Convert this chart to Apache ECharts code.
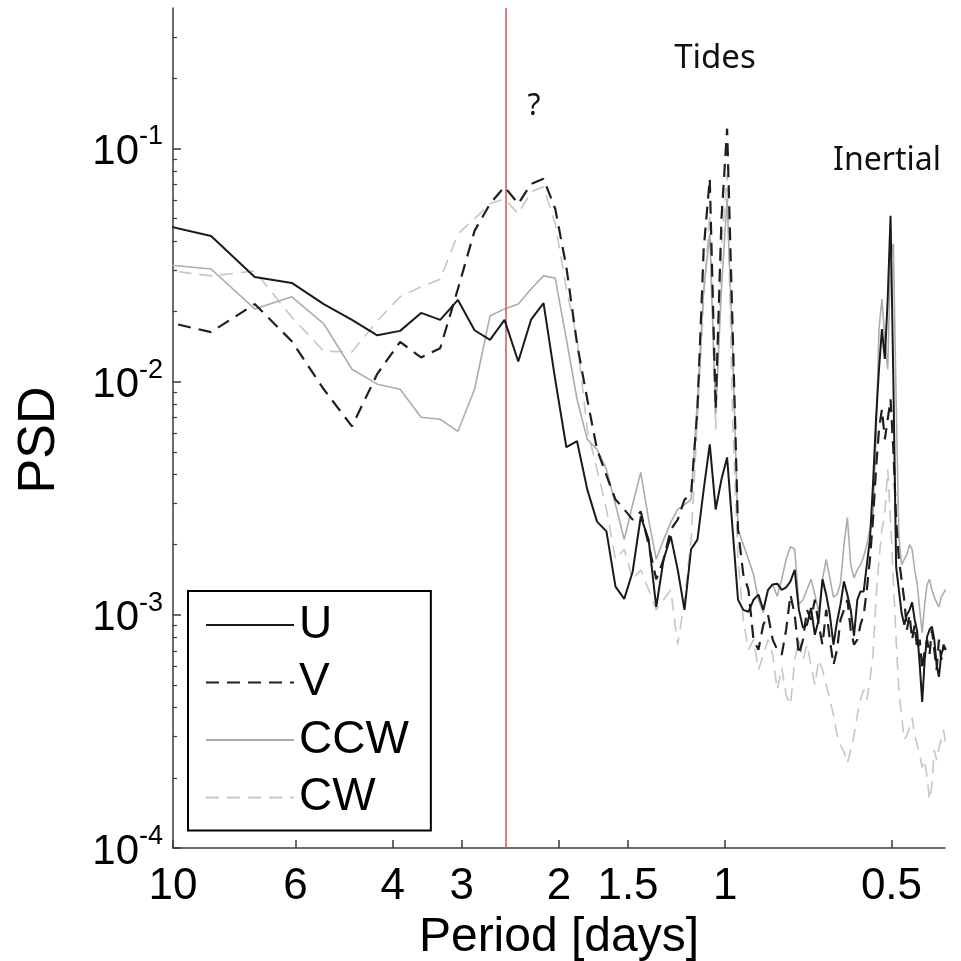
<!DOCTYPE html>
<html><head><meta charset="utf-8">
<script src="https://cdn.jsdelivr.net/npm/echarts@6/dist/echarts.min.js"></script>
<style>html,body{margin:0;padding:0;background:#fff}#c{width:961px;height:961px}</style>
</head><body><div id="c"></div>
<script>
// Spectral frequency grid (cycles per day)
const freqCpd = [0.0938,0.1172,0.1406,0.1641,0.1875,0.2109,0.2344,0.2578,0.2813,0.3047,
0.3281,0.3516,0.375,0.3984,0.4219,0.4453,0.4688,0.4922,0.5156,0.5391,
0.5625,0.5859,0.6094,0.6328,0.6563,0.6797,0.7031,0.7266,0.75,0.7734,
0.7969,0.8203,0.8438,0.8672,0.8906,0.9141,0.9375,0.9609,0.9844,1.0078,
1.0313,1.0547,1.0781,1.1016,1.125,1.1484,1.1719,1.1953,1.2188,1.2422,
1.2656,1.2891,1.3125,1.3359,1.3594,1.3828,1.4063,1.4297,1.4531,1.4766,
1.5,1.5234,1.5469,1.5703,1.5938,1.6172,1.6406,1.6641,1.6875,1.7109,
1.7344,1.7578,1.7813,1.8047,1.8281,1.8516,1.875,1.8984,1.9219,1.9453,
1.9688,1.9922,2.0156,2.0391,2.0625,2.0859,2.1094,2.1328,2.1563,2.1797,
2.2031,2.2266,2.25,2.2734,2.2969,2.3203,2.3438,2.3672,2.3906,2.4141,
2.4375,2.4609,2.4844,2.5078];

const psdU = [0.0475,0.0421,0.0281,0.0265,0.0215,0.0184,0.0158,0.0165,0.0197,0.0184,
0.0224,0.0166,0.0151,0.0184,0.0122,0.0185,0.0217,0.0102,0.00523,0.00555,
0.00345,0.00251,0.00228,0.00132,0.00117,0.00153,0.00264,0.0021,0.00108,0.00173,
0.00217,0.00156,0.00105,0.00191,0.0021,0.00345,0.00538,0.00283,0.00381,0.00473,
0.00232,0.00116,0.00105,0.00103,0.00116,0.00122,0.00105,0.00128,0.00135,0.00136,
0.00128,0.00131,0.00139,0.00156,0.00105,0.00088,0.000907,0.00107,0.000821,0.000953,
0.00142,0.00122,0.001,0.000744,0.000934,0.00111,0.00139,0.00122,0.00105,0.000813,
0.00116,0.00126,0.00126,0.00164,0.0021,0.00362,0.00689,0.0113,0.0168,0.0125,
0.0226,0.0514,0.0102,0.00161,0.00128,0.00102,0.000907,0.001,0.00105,0.00113,
0.000953,0.000846,0.00061,0.000423,0.000641,0.000805,0.000863,0.000889,0.000782,0.00061,
0.000542,0.000674,0.000722,0.000708];

const psdV = [0.0184,0.0163,0.0215,0.0149,0.00927,0.00643,0.0108,0.0148,0.0127,0.0139,
0.025,0.0443,0.0579,0.0684,0.0579,0.0705,0.0741,0.0551,0.031,0.0145,
0.0084,0.00512,0.00396,0.00312,0.00283,0.00256,0.00277,0.002,0.00142,0.00173,
0.00232,0.00256,0.00312,0.00328,0.00761,0.0371,0.0741,0.00761,0.0499,0.1215,
0.0168,0.00232,0.00149,0.00128,0.000782,0.000708,0.000907,0.001,0.000782,0.000708,
0.000674,0.000863,0.00122,0.001,0.000674,0.000782,0.00105,0.000953,0.00116,0.000907,
0.000744,0.00105,0.000782,0.00061,0.000708,0.000953,0.00105,0.00116,0.000863,0.000744,
0.000782,0.000907,0.001,0.00128,0.00173,0.00256,0.0042,0.00624,0.00761,0.00566,
0.00689,0.0084,0.00512,0.00256,0.00173,0.00142,0.00116,0.000863,0.001,0.000782,
0.000907,0.000708,0.000782,0.000581,0.000708,0.000782,0.000674,0.000863,0.000708,0.000581,
0.000782,0.000641,0.000744,0.000708];

const psdCCW = [0.032,0.0304,0.0205,0.0231,0.0177,0.0113,0.00975,0.00927,0.00703,0.00689,
0.00612,0.00927,0.0191,0.0205,0.0215,0.025,0.0284,0.0278,0.0152,0.0084,
0.00566,0.00512,0.0042,0.00297,0.0021,0.00297,0.00408,0.00256,0.00173,0.0021,
0.00249,0.00283,0.00297,0.00312,0.0084,0.025,0.043,0.00724,0.025,0.0608,
0.0138,0.00232,0.002,0.00173,0.00149,0.00116,0.00102,0.00128,0.00135,0.0012,
0.00142,0.00173,0.00196,0.00191,0.00111,0.00116,0.00128,0.00142,0.00122,0.00103,
0.00142,0.00173,0.00144,0.00119,0.00122,0.00137,0.002,0.00261,0.00164,0.00144,
0.00156,0.00164,0.00178,0.002,0.00232,0.00269,0.00566,0.0168,0.0226,0.0152,
0.0113,0.0336,0.039,0.0084,0.00217,0.00164,0.00173,0.00181,0.002,0.00191,
0.00156,0.00135,0.00105,0.000838,0.00111,0.00135,0.00142,0.00128,0.00119,0.00113,
0.00108,0.00119,0.00124,0.00128];

const psdCW = [0.0304,0.0284,0.0298,0.0189,0.0135,0.0134,0.0182,0.0231,0.0255,0.0275,
0.043,0.0499,0.0579,0.0608,0.0524,0.0652,0.0684,0.0475,0.025,0.0152,
0.00624,0.0042,0.00283,0.00173,0.00191,0.00142,0.00156,0.00128,0.00105,0.00116,
0.00128,0.000744,0.00116,0.0021,0.00689,0.0226,0.0524,0.00624,0.0371,0.0779,
0.00689,0.00173,0.000953,0.000708,0.000782,0.000581,0.000674,0.000782,0.000674,0.000477,
0.000593,0.000453,0.000411,0.000641,0.000782,0.000641,0.000744,0.00061,0.000501,0.000641,
0.000581,0.000501,0.000432,0.000372,0.000305,0.000277,0.000258,0.000231,0.000263,0.000305,
0.000372,0.000432,0.000477,0.000432,0.000526,0.000674,0.00116,0.00173,0.00232,0.00269,
0.0042,0.00256,0.00142,0.000782,0.000477,0.000372,0.000291,0.000305,0.000327,0.000361,
0.000305,0.000277,0.000251,0.000222,0.000238,0.0002,0.000161,0.000186,0.000263,0.000238,
0.000269,0.000291,0.000321,0.000277];

const seriesNames = ['U','V','CCW','CW'];
const periodTicks = [10,6,4,3,2,1.5,1,0.5];          // days
const psdMajorTicks = [1e-4,1e-3,1e-2,1e-1];
const psdMinorTicks = [2e-4,3e-4,4e-4,5e-4,6e-4,7e-4,8e-4,9e-4,
  2e-3,3e-3,4e-3,5e-3,6e-3,7e-3,8e-3,9e-3,
  2e-2,3e-2,4e-2,5e-2,6e-2,7e-2,8e-2,9e-2,0.2,0.3];
const markerPeriod = 2.5;                            // days (red line)
const annotationTexts = ['Tides','?','Inertial'];

const FONT = '"Liberation Sans", Arial, Helvetica, sans-serif';
const pairs = arr => freqCpd.map((f, i) => [f, arr[i]]);
const periodFreqs = periodTicks.map(p => 1 / p);

const axisColor = '#3a3a3a';
const chart = echarts.init(document.getElementById('c'), null, {renderer: 'canvas'});

const styles = [
  {color: '#1a1a1a', width: 2, type: 'solid', z: 6},
  {color: '#1f1f1f', width: 2.2, type: [13, 8], z: 5},
  {color: '#acacac', width: 1.6, type: 'solid', z: 4},
  {color: '#c6c6c6', width: 1.6, type: [13, 8], z: 3}
];
const dataSets = [psdU, psdV, psdCCW, psdCW];

const series = seriesNames.map((name, i) => ({
  name,
  type: 'line',
  symbol: 'none',
  showSymbol: false,
  clip: true,
  z: styles[i].z,
  data: pairs(dataSets[i]),
  lineStyle: {color: styles[i].color, width: styles[i].width, type: styles[i].type},
  itemStyle: {color: styles[i].color},
  emphasis: {disabled: true}
}));
series[0].markLine = {
  silent: true,
  symbol: 'none',
  label: {show: false},
  lineStyle: {color: '#c9585a', width: 1.5, type: 'solid'},
  data: [{xAxis: 1 / markerPeriod}]
};

const option = {
  animation: false,
  backgroundColor: '#fff',
  grid: {left: 173, right: 16, top: 8, bottom: 113, containLabel: false, outerBoundsMode: 'none'},
  xAxis: {
    type: 'log', logBase: 10, min: 0.1, max: 2.5,
    axisLine: {show: true, lineStyle: {color: axisColor, width: 1.5}},
    axisTick: {show: true, inside: true, length: 8, customValues: periodFreqs,
      lineStyle: {color: axisColor, width: 1.5}},
    axisLabel: {customValues: periodFreqs, color: '#000', fontFamily: FONT, fontSize: 44, margin: 17,
      formatter: v => String(+(1 / v).toFixed(1))},
    splitLine: {show: false},
    minorTick: {show: false},
    name: 'Period [days]', nameLocation: 'middle', nameGap: 63,
    nameTextStyle: {color: '#000', fontFamily: FONT, fontSize: 48}
  },
  yAxis: [{
    type: 'log', logBase: 10, min: 1e-4, max: 0.4,
    axisLine: {show: true, lineStyle: {color: axisColor, width: 1.5}},
    axisTick: {show: true, inside: true, length: 8, customValues: psdMajorTicks,
      lineStyle: {color: axisColor, width: 1.5}},
    axisLabel: {customValues: psdMajorTicks, margin: 10,
      formatter: v => '{a|10}{b|' + Math.round(Math.log10(v)) + '}',
      rich: {
        a: {fontSize: 42, fontFamily: FONT, color: '#000', lineHeight: 50, verticalAlign: 'bottom'},
        b: {fontSize: 27, fontFamily: FONT, color: '#000', lineHeight: 50, verticalAlign: 'top'}
      }},
    splitLine: {show: false}
  }, {
    type: 'log', logBase: 10, min: 1e-4, max: 0.4, position: 'left', offset: 0,
    axisLine: {show: false},
    axisTick: {show: true, inside: true, length: 4, customValues: psdMinorTicks,
      lineStyle: {color: axisColor, width: 1.2}},
    axisLabel: {show: false},
    splitLine: {show: false}
  }],
  legend: {
    data: seriesNames,
    orient: 'vertical',
    left: 188, top: 591,
    backgroundColor: '#fff',
    borderColor: '#000', borderWidth: 2, borderRadius: 0,
    padding: [11, 22, 10, 17],
    itemWidth: 88, itemHeight: 14, itemGap: 11.5,
    itemStyle: {opacity: 0},
    textStyle: {fontSize: 46, fontFamily: FONT, color: '#000', lineHeight: 44},
    selectedMode: false
  },
  graphic: [
    {type: 'text', x: 40, y: 440, rotation: Math.PI / 2,
      style: {text: 'PSD', fill: '#000', font: '52px ' + FONT, align: 'center', verticalAlign: 'middle'}},
    {type: 'text', x: 715, y: 59,
      style: {text: annotationTexts[0], fill: '#111', font: '33px "Noto Sans", sans-serif', align: 'center', verticalAlign: 'middle'}},
    {type: 'text', x: 534, y: 106,
      style: {text: annotationTexts[1], fill: '#111', font: '30px "Noto Sans", sans-serif', align: 'center', verticalAlign: 'middle'}},
    {type: 'text', x: 887, y: 161,
      style: {text: annotationTexts[2], fill: '#111', font: '32px "Noto Sans", sans-serif', align: 'center', verticalAlign: 'middle'}}
  ],
  series
};
chart.setOption(option);
</script>
</body></html>
